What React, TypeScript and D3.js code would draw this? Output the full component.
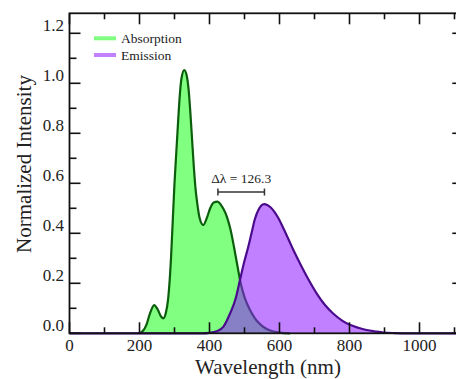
import React from 'react';
import * as d3 from 'd3';

// absorption spectrum (nm, normalized)
const absWl = [200, 210, 220, 230, 242, 252, 262, 268, 275, 282, 290, 295, 300, 305, 310, 315, 320, 328, 335, 340, 345, 350, 355, 360, 365, 372, 382, 392, 402, 412, 423, 432, 440, 450, 460, 470, 480, 490, 500, 510, 520, 535, 550, 565, 580, 600, 630];
const absInt = [0, 0.01, 0.035, 0.08, 0.113, 0.095, 0.066, 0.06, 0.08, 0.14, 0.3, 0.45, 0.6, 0.72, 0.84, 0.95, 1.02, 1.053, 1.03, 0.98, 0.89, 0.78, 0.67, 0.58, 0.52, 0.46, 0.433, 0.46, 0.5, 0.523, 0.527, 0.515, 0.497, 0.465, 0.415, 0.345, 0.268, 0.195, 0.145, 0.11, 0.082, 0.05, 0.03, 0.016, 0.008, 0.003, 0];

// emission spectrum
const emWl = [0, 380, 400, 420, 440, 459, 475, 487, 500, 511, 520, 530, 540, 548, 556, 565, 575, 585, 597, 611, 625, 640, 659, 680, 706, 730, 754, 780, 801, 825, 849, 875, 897, 930, 970, 1110];
const emInt = [0, 0, 0.002, 0.008, 0.027, 0.08, 0.14, 0.213, 0.29, 0.347, 0.4, 0.458, 0.494, 0.511, 0.517, 0.513, 0.503, 0.487, 0.46, 0.42, 0.378, 0.332, 0.278, 0.222, 0.16, 0.113, 0.078, 0.05, 0.034, 0.022, 0.013, 0.007, 0.003, 0.001, 0, 0];

const xMajor = [0, 200, 400, 600, 800, 1000];
const xMinor = [100, 300, 500, 700, 900, 1100];
const yMajor = [0, 0.2, 0.4, 0.6, 0.8, 1.0, 1.2];
const yMinor = [0.1, 0.3, 0.5, 0.7, 0.9, 1.1];

const seriesNames = ['Absorption', 'Emission'];
const peakAbs = 424;
const peakEm = 557;
const shiftLabel = 'Δλ = 126.3';

const W = 456;
const H = 379;
const font = "'Liberation Serif', 'Times New Roman', serif";

const App = () => {
  const x = d3.scaleLinear().domain([0, 1108]).range([69.5, 457.3]);
  const y = d3.scaleLinear().domain([0, 1.28]).range([333.3, 13.3]);

  const absData = absWl.map((w, i) => [w, absInt[i]] as [number, number]);
  const emData = emWl.map((w, i) => [w, emInt[i]] as [number, number]);

  const area = d3.area<[number, number]>()
    .x(d => x(d[0]))
    .y0(y(0))
    .y1(d => y(d[1]))
    .curve(d3.curveMonotoneX);
  const line = d3.line<[number, number]>()
    .x(d => x(d[0]))
    .y(d => y(d[1]))
    .curve(d3.curveMonotoneX);

  const [x0, x1] = x.range();
  const [y0, y1] = y.range();

  return (
    <svg width={W} height={H} style={{ position: 'absolute', left: 0, top: 0, background: '#fff' }}>
      {/* curves */}
      <path d={area(absData) || ''} fill="#80ff80" />
      <path d={line(absData) || ''} fill="none" stroke="#0b5e0b" strokeWidth={2.2} />
      <path d={area(emData) || ''} fill="rgb(142,28,255)" fillOpacity={0.56} />
      <path d={line(emData) || ''} fill="none" stroke="#4a0b8c" strokeWidth={2.2} />

      {/* frame */}
      <rect x={x0} y={y1} width={x1 - x0} height={y0 - y1} fill="none" stroke="#111" strokeWidth={1.8} />

      {/* x ticks */}
      {xMajor.map(t => (
        <g key={'xM' + t}>
          <line x1={x(t)} x2={x(t)} y1={y0} y2={y0 - 11} stroke="#111" strokeWidth={1.6} />
          <line x1={x(t)} x2={x(t)} y1={y1} y2={y1 + 11} stroke="#111" strokeWidth={1.6} />
          <text x={x(t)} y={351} textAnchor="middle" fontFamily={font} fontSize={17} fill="#222">{t}</text>
        </g>
      ))}
      {xMinor.map(t => (
        <g key={'xm' + t}>
          <line x1={x(t)} x2={x(t)} y1={y0} y2={y0 - 6} stroke="#111" strokeWidth={1.6} />
          <line x1={x(t)} x2={x(t)} y1={y1} y2={y1 + 6} stroke="#111" strokeWidth={1.6} />
        </g>
      ))}

      {/* y ticks */}
      {yMajor.map(t => (
        <g key={'yM' + t}>
          <line x1={x0} x2={x0 + 11} y1={y(t)} y2={y(t)} stroke="#111" strokeWidth={1.6} />
          <line x1={x1} x2={x1 - 5} y1={y(t)} y2={y(t)} stroke="#111" strokeWidth={1.6} />
          <text x={64} y={y(t) - 2} textAnchor="end" fontFamily={font} fontSize={17} fill="#222">{t.toFixed(1)}</text>
        </g>
      ))}
      {yMinor.map(t => (
        <line key={'ym' + t} x1={x0} x2={x0 + 7} y1={y(t)} y2={y(t)} stroke="#111" strokeWidth={1.6} />
      ))}

      {/* axis titles */}
      <text x={268} y={374} textAnchor="middle" fontFamily={font} fontSize={21} fill="#222">Wavelength (nm)</text>
      <text transform="translate(31,164) rotate(-90)" textAnchor="middle" fontFamily={font} fontSize={21} fill="#222">Normalized Intensity</text>

      {/* legend */}
      <rect x={94} y={36.3} width={22} height={4} fill="#80ff80" />
      <text x={121} y={42.5} fontFamily={font} fontSize={13.5} fill="#222">{seriesNames[0]}</text>
      <rect x={94} y={53} width={22} height={4} fill="rgb(142,28,255)" fillOpacity={0.56} />
      <text x={121} y={59.5} fontFamily={font} fontSize={13.5} fill="#222">{seriesNames[1]}</text>

      {/* stokes shift annotation */}
      <g stroke="#333" strokeWidth={1.5}>
        <line x1={x(peakAbs)} x2={x(peakEm)} y1={y(0.565)} y2={y(0.565)} />
        <line x1={x(peakAbs)} x2={x(peakAbs)} y1={y(0.565) - 3.5} y2={y(0.565) + 3.5} />
        <line x1={x(peakEm)} x2={x(peakEm)} y1={y(0.565) - 3.5} y2={y(0.565) + 3.5} />
      </g>
      <text x={(x(peakAbs) + x(peakEm)) / 2} y={y(0.6)} textAnchor="middle" fontFamily={font} fontSize={13.5} fill="#222">{shiftLabel}</text>
    </svg>
  );
};

export default App;
